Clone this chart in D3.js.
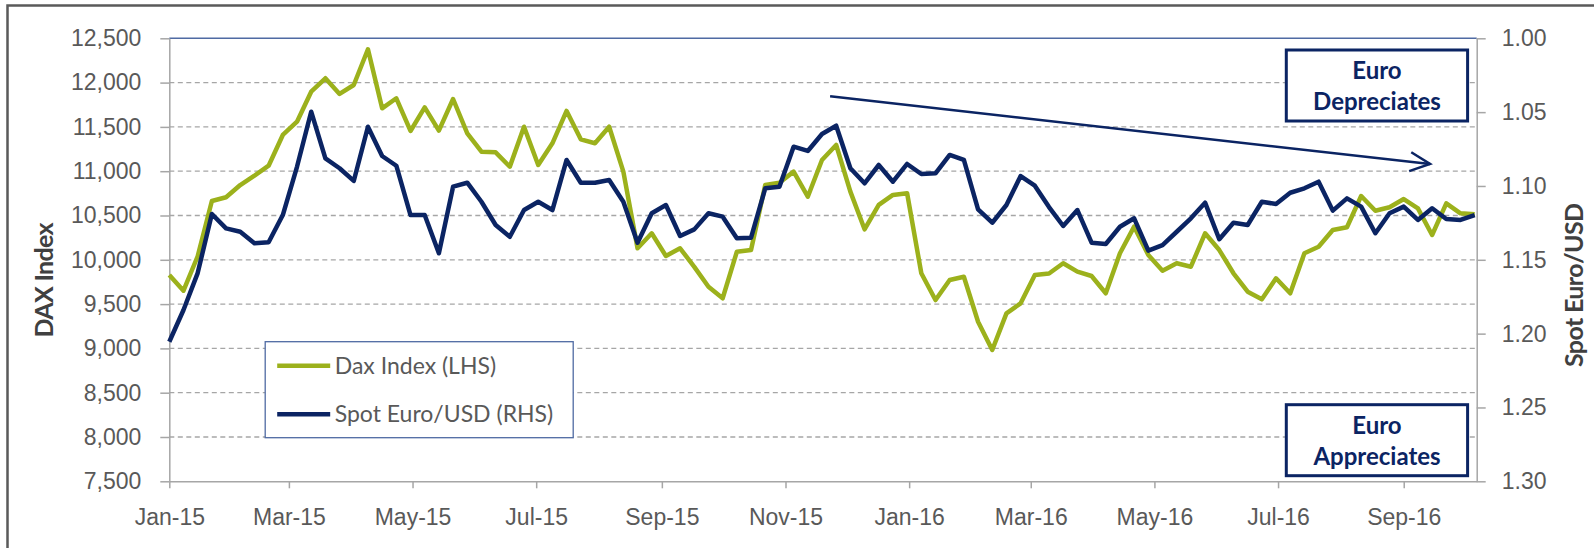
<!DOCTYPE html>
<html>
<head>
<meta charset="utf-8">
<script src="https://cdn.jsdelivr.net/npm/d3@7"></script>
<style>
	body { margin: 0; background: #fff; }
	svg { display: block; font-family: Lato, "Open Sans", sans-serif; }
</style>
</head>
<body>
<svg id="plot" width="1594" height="548"></svg>
<script>
// weekly observations, first one on 1 Jan 2015
var startDate = new Date(2015, 0, 1);
var daxIndex = [9828, 9651, 10040, 10664, 10706, 10844, 10949, 11062, 11409, 11559,
	11897, 12049, 11872, 11973, 12376, 11710, 11823, 11454, 11721, 11458,
	11815, 11428, 11220, 11213, 11051, 11502, 11070, 11315, 11680, 11360,
	11315, 11502, 10995, 10130, 10299, 10043, 10130, 9920, 9696, 9566,
	10091, 10110, 10844, 10870, 10995, 10712, 11127, 11296, 10769, 10344,
	10619, 10732, 10751, 9848, 9546, 9772, 9809, 9301, 8982, 9396,
	9509, 9828, 9845, 9961, 9866, 9817, 9622, 10074, 10374, 10054,
	9877, 9961, 9922, 10299, 10110, 9848, 9640, 9554, 9791, 9622,
	10074, 10148, 10336, 10367, 10720, 10554, 10593, 10686, 10581, 10280,
	10637, 10525, 10514];
var spotEurUsd = [1.2055, 1.184, 1.159, 1.119, 1.1287, 1.131, 1.1388, 1.1381, 1.1197, 1.087,
	1.0497, 1.0813, 1.088, 1.0966, 1.0599, 1.0797, 1.0863, 1.1197, 1.1197, 1.1456,
	1.1005, 1.0978, 1.1107, 1.1264, 1.1344, 1.1163, 1.1107, 1.1163, 1.0824, 1.0978,
	1.0978, 1.096, 1.1107, 1.1384, 1.1185, 1.1129, 1.1339, 1.1294, 1.1185, 1.1208,
	1.1354, 1.135, 1.1016, 1.1005, 1.0734, 1.0763, 1.0648, 1.0592, 1.088, 1.0982,
	1.0858, 1.0971, 1.0851, 1.0919, 1.0914, 1.079, 1.0824, 1.1158, 1.1249, 1.1129,
	1.0933, 1.0998, 1.1143, 1.1271, 1.1163, 1.1384, 1.1393, 1.1276, 1.1219, 1.1438,
	1.14, 1.131, 1.1219, 1.1113, 1.1361, 1.1249, 1.1264, 1.1107, 1.1122, 1.1046,
	1.1016, 1.0971, 1.1167, 1.1084, 1.114, 1.132, 1.1185, 1.114, 1.123, 1.1151,
	1.1224, 1.123, 1.1197];

var xTickDates = [new Date(2015,0,1), new Date(2015,2,1), new Date(2015,4,1), new Date(2015,6,1),
	new Date(2015,8,1), new Date(2015,10,1), new Date(2016,0,1), new Date(2016,2,1),
	new Date(2016,4,1), new Date(2016,6,1), new Date(2016,8,1)];
var xTickLabels = ["Jan-15","Mar-15","May-15","Jul-15","Sep-15","Nov-15","Jan-16","Mar-16","May-16","Jul-16","Sep-16"];
var leftTicks = [7500, 8000, 8500, 9000, 9500, 10000, 10500, 11000, 11500, 12000, 12500];
var rightTicks = [1.00, 1.05, 1.10, 1.15, 1.20, 1.25, 1.30];
var seriesNames = ["Dax Index (LHS)", "Spot Euro/USD (RHS)"];

// trend arrow, in chart units (date, Euro/USD)
var arrowFrom = {date: new Date(2015,10,23), value: 1.0393};
var arrowTo = {date: new Date(2016,8,14), value: 1.0851};

var green = "#9cb11c", navy = "#0b2463", grey = "#595959";

function whenDocumentLoaded(action) {
	if (document.readyState === "loading") {
		document.addEventListener("DOMContentLoaded", action);
	} else {
		action();
	}
}

whenDocumentLoaded(() => {
	var svg = d3.select("#plot");
	var left = 169.3, right = 1476.7, top = 38.3, bottom = 481.3;

	var data = daxIndex.map((d, i) => ({date: d3.timeDay.offset(startDate, 7*i), dax: d, eur: spotEurUsd[i]}));

	var xscale = d3.scaleTime()
		.domain([startDate, new Date(2016,9,7)])
		.range([left, right]);
	var yleft = d3.scaleLinear().domain([7500, 12500]).range([bottom, top]);
	var yright = d3.scaleLinear().domain([1.00, 1.30]).range([top, bottom]);

	// outer frame
	svg.append("rect")
		.attr("x", 7.5).attr("y", 5.5)
		.attr("width", 1620).attr("height", 600)
		.attr("fill", "none").attr("stroke", "#5a5a5a").attr("stroke-width", 2.5);

	// dashed grid
	svg.append("g").selectAll("line")
		.data(leftTicks.slice(1, -1))
		.enter().append("line")
		.attr("x1", left).attr("x2", right)
		.attr("y1", d => yleft(d)).attr("y2", d => yleft(d))
		.attr("stroke", "#a6a6a6").attr("stroke-width", 1.3)
		.attr("stroke-dasharray", "5,3.5");
	svg.append("line")
		.attr("x1", left).attr("x2", right)
		.attr("y1", yleft(12500)).attr("y2", yleft(12500))
		.attr("stroke", "#4f6aa3").attr("stroke-width", 1.5);

	var styleAxis = function(g) {
		g.select(".domain").attr("stroke", "#a6a6a6").attr("stroke-width", 1.5);
		g.selectAll(".tick line").attr("stroke", "#a6a6a6").attr("stroke-width", 1.5);
		g.selectAll("text").attr("fill", grey).style("font-size", "23px");
	};

	svg.append("g")
		.attr("transform", "translate(" + left + ",0)")
		.call(d3.axisLeft(yleft).tickValues(leftTicks).tickSizeInner(9).tickSizeOuter(0).tickPadding(19).tickFormat(d3.format(",")))
		.call(styleAxis);

	svg.append("g")
		.attr("transform", "translate(" + right + ",0)")
		.call(d3.axisRight(yright).tickValues(rightTicks).tickSizeInner(9).tickSizeOuter(0).tickPadding(16).tickFormat(d3.format(".2f")))
		.call(styleAxis);

	svg.append("g")
		.attr("transform", "translate(0," + bottom + ")")
		.call(d3.axisBottom(xscale).tickValues(xTickDates).tickSizeInner(7).tickSizeOuter(0).tickPadding(20)
			.tickFormat((d, i) => xTickLabels[i]))
		.call(styleAxis);

	// axis titles
	svg.append("text")
		.attr("transform", "translate(44,280) rotate(-90)")
		.attr("text-anchor", "middle").attr("dy", "0.35em")
		.attr("textLength", 115).attr("lengthAdjust", "spacing")
		.attr("fill", "#404040").style("font-size", "25px").style("font-weight", "bold")
		.text("DAX Index");
	svg.append("text")
		.attr("transform", "translate(1574,285) rotate(-90)")
		.attr("text-anchor", "middle").attr("dy", "0.35em")
		.attr("textLength", 164).attr("lengthAdjust", "spacing")
		.attr("fill", "#404040").style("font-size", "25px").style("font-weight", "bold")
		.text("Spot Euro/USD");

	// lines
	var daxLine = d3.line().x(d => xscale(d.date)).y(d => yleft(d.dax));
	var eurLine = d3.line().x(d => xscale(d.date)).y(d => yright(d.eur));
	svg.append("path").attr("d", daxLine(data))
		.attr("fill", "none").attr("stroke", green).attr("stroke-width", 4.5).attr("stroke-linejoin", "round");
	svg.append("path").attr("d", eurLine(data))
		.attr("fill", "none").attr("stroke", navy).attr("stroke-width", 4.5).attr("stroke-linejoin", "round");

	// legend
	var legend = svg.append("g").attr("transform", "translate(265.2,341.7)");
	legend.append("rect").attr("width", 308).attr("height", 96)
		.attr("fill", "#fff").attr("stroke", "#4f6aa3").attr("stroke-width", 1.3);
	var colors = [green, navy];
	seriesNames.forEach((name, i) => {
		var yy = 24 + i * 48.6;
		legend.append("line").attr("x1", 12).attr("x2", 65).attr("y1", yy).attr("y2", yy)
			.attr("stroke", colors[i]).attr("stroke-width", 4.5);
		legend.append("text").attr("x", 69.5).attr("y", yy).attr("dy", "0.35em")
			.attr("fill", grey).style("font-size", "23px").text(name);
	});

	// arrow
	svg.append("defs").append("marker")
		.attr("id", "head").attr("markerUnits", "userSpaceOnUse")
		.attr("viewBox", "-24 -12 28 24").attr("refX", 0).attr("refY", 0)
		.attr("markerWidth", 28).attr("markerHeight", 24).attr("orient", "auto")
		.append("path").attr("d", "M-20,-9.5L0,0L-20,9.5")
		.attr("fill", "none").attr("stroke", navy).attr("stroke-width", 2.5);
	svg.append("line")
		.attr("x1", xscale(arrowFrom.date)).attr("y1", yright(arrowFrom.value))
		.attr("x2", xscale(arrowTo.date)).attr("y2", yright(arrowTo.value))
		.attr("stroke", navy).attr("stroke-width", 2.5).attr("marker-end", "url(#head)");

	// Euro boxes
	var boxes = [{lines: ["Euro", "Depreciates"], y: 50}, {lines: ["Euro", "Appreciates"], y: 404.7}];
	boxes.forEach(b => {
		var g = svg.append("g").attr("transform", "translate(" + (right - 190.4) + "," + b.y + ")");
		g.append("rect").attr("width", 181.3).attr("height", 71)
			.attr("fill", "#fff").attr("stroke", navy).attr("stroke-width", 3);
		b.lines.forEach((t, i) => {
			g.append("text").attr("x", 90.7).attr("y", 20.7 + i * 31).attr("dy", "0.35em")
				.attr("text-anchor", "middle").attr("fill", navy)
				.style("font-size", "24px").style("font-weight", "bold").text(t);
		});
	});
});
</script>
</body>
</html>
